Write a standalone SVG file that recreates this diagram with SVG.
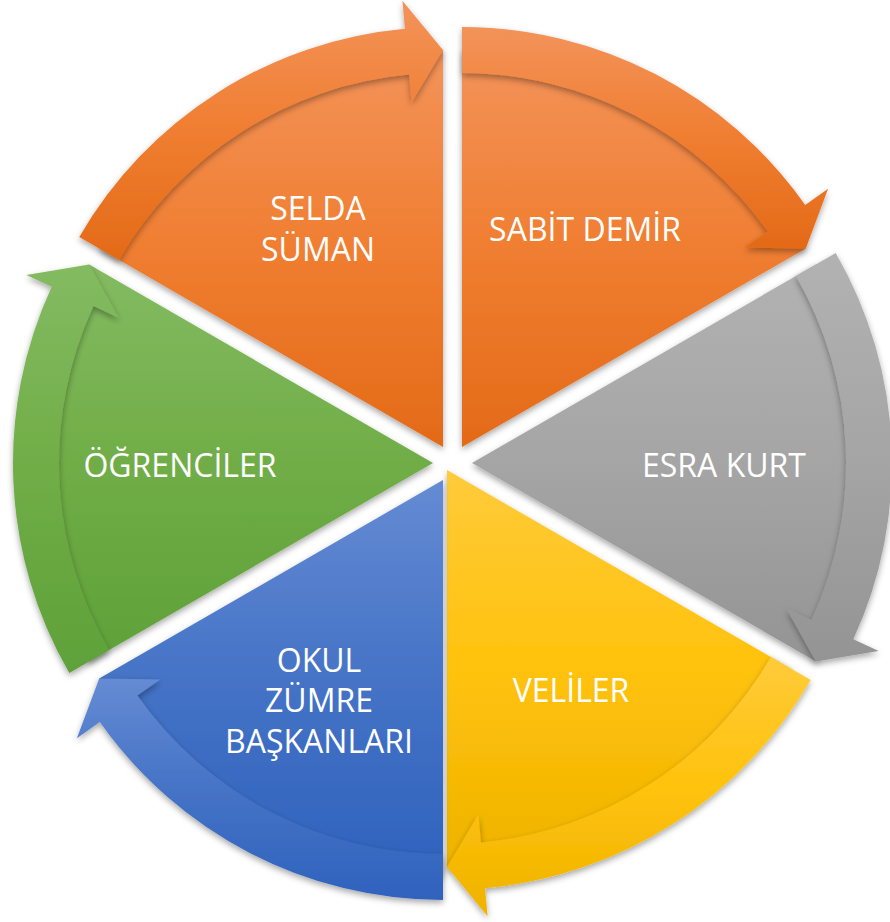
<svg xmlns="http://www.w3.org/2000/svg" width="890" height="922" viewBox="0 0 890 922">
<defs>
<linearGradient id="gO" x1="0" y1="0" x2="0" y2="1"><stop offset="0" stop-color="#F3935A"/><stop offset="0.5" stop-color="#F07E31"/><stop offset="1" stop-color="#E36A17"/></linearGradient>
<linearGradient id="gG" x1="0" y1="0" x2="0" y2="1"><stop offset="0" stop-color="#B2B2B2"/><stop offset="0.5" stop-color="#A5A5A5"/><stop offset="1" stop-color="#949494"/></linearGradient>
<linearGradient id="gY" x1="0" y1="0" x2="0" y2="1"><stop offset="0" stop-color="#FFCB3A"/><stop offset="0.5" stop-color="#FFC20C"/><stop offset="1" stop-color="#EFB300"/></linearGradient>
<linearGradient id="gB" x1="0" y1="0" x2="0" y2="1"><stop offset="0" stop-color="#658BD3"/><stop offset="0.5" stop-color="#4573C6"/><stop offset="1" stop-color="#2F62BD"/></linearGradient>
<linearGradient id="gV" x1="0" y1="0" x2="0" y2="1"><stop offset="0" stop-color="#84BB62"/><stop offset="0.5" stop-color="#70AD47"/><stop offset="1" stop-color="#5FA139"/></linearGradient>
<filter id="sh" x="-10%" y="-10%" width="120%" height="120%"><feDropShadow dx="0" dy="3" stdDeviation="3" flood-color="#000" flood-opacity="0.35"/></filter>
</defs>
<style>
.pie{filter:url(#sh);}
.arr{filter:url(#sh);}
.lbl{font-family:"Open Sans","Noto Sans","Liberation Sans",sans-serif;font-size:32px;fill:#FFFFFF;text-anchor:middle;}
</style>
<g id="nodes">
<g id="node-sabit-demir">
<path class="pie" fill="url(#gO)" d="M462 447 L462 50 A397 397 0 0 1 805.8 248.5 Z"/>
<text class="lbl" x="585" y="241">SABİT DEMİR</text>
</g>
<g id="node-esra-kurt">
<path class="pie" fill="url(#gG)" d="M472 463 L815.8 264.5 A397 397 0 0 1 815.8 661.5 Z"/>
<text class="lbl" x="724" y="477">ESRA KURT</text>
</g>
<g id="node-veliler">
<path class="pie" fill="url(#gY)" d="M447 470 L790.8 668.5 A397 397 0 0 1 447 867 Z"/>
<text class="lbl" x="571" y="702">VELİLER</text>
</g>
<g id="node-okul-zumre">
<path class="pie" fill="url(#gB)" d="M443 480 L443 877 A397 397 0 0 1 99.2 678.5 Z"/>
<text class="lbl" x="319" y="672">OKUL</text>
<text class="lbl" x="319" y="712">ZÜMRE</text>
<text class="lbl" x="319" y="753">BAŞKANLARI</text>
</g>
<g id="node-ogrenciler">
<path class="pie" fill="url(#gV)" d="M433 463 L89.2 661.5 A397 397 0 0 1 89.2 264.5 Z"/>
<text class="lbl" x="180" y="477">ÖĞRENCİLER</text>
</g>
<g id="node-selda-suman">
<path class="pie" fill="url(#gO)" d="M443 447 L99.2 248.5 A397 397 0 0 1 443 50 Z"/>
<text class="lbl" x="318" y="220">SELDA</text>
<text class="lbl" x="318" y="261">SÜMAN</text>
</g>
</g>
<g id="connectors">
<path class="arr" fill="url(#gO)" d="M462 27 A420 420 0 0 1 805.2 204.9 L828.1 188.8 L805.8 248.5 L744.7 247.6 L767.6 231.4 A374 374 0 0 0 462 73 Z"/>
<path class="arr" fill="url(#gG)" d="M835.7 253 A420 420 0 0 1 853.3 639.2 L878.7 650.9 L815.8 661.5 L786.1 608.1 L811.5 619.9 A374 374 0 0 0 795.9 276 Z"/>
<path class="arr" fill="url(#gY)" d="M810.7 680 A420 420 0 0 1 485.1 888.3 L487.6 916.2 L447 867 L478.4 814.6 L480.9 842.5 A374 374 0 0 0 770.9 657 Z"/>
<path class="arr" fill="url(#gB)" d="M443 900 A420 420 0 0 1 99.8 722.1 L76.9 738.2 L99.2 678.5 L160.3 679.4 L137.4 695.6 A374 374 0 0 0 443 854 Z"/>
<path class="arr" fill="url(#gV)" d="M69.3 673 A420 420 0 0 1 51.7 286.8 L26.3 275.1 L89.2 264.5 L118.9 317.9 L93.5 306.1 A374 374 0 0 0 109.1 650 Z"/>
<path class="arr" fill="url(#gO)" d="M79.3 237 A420 420 0 0 1 404.9 28.7 L402.4 0.8 L443 50 L411.6 102.4 L409.1 74.5 A374 374 0 0 0 119.1 260 Z"/>
</g>
</svg>
